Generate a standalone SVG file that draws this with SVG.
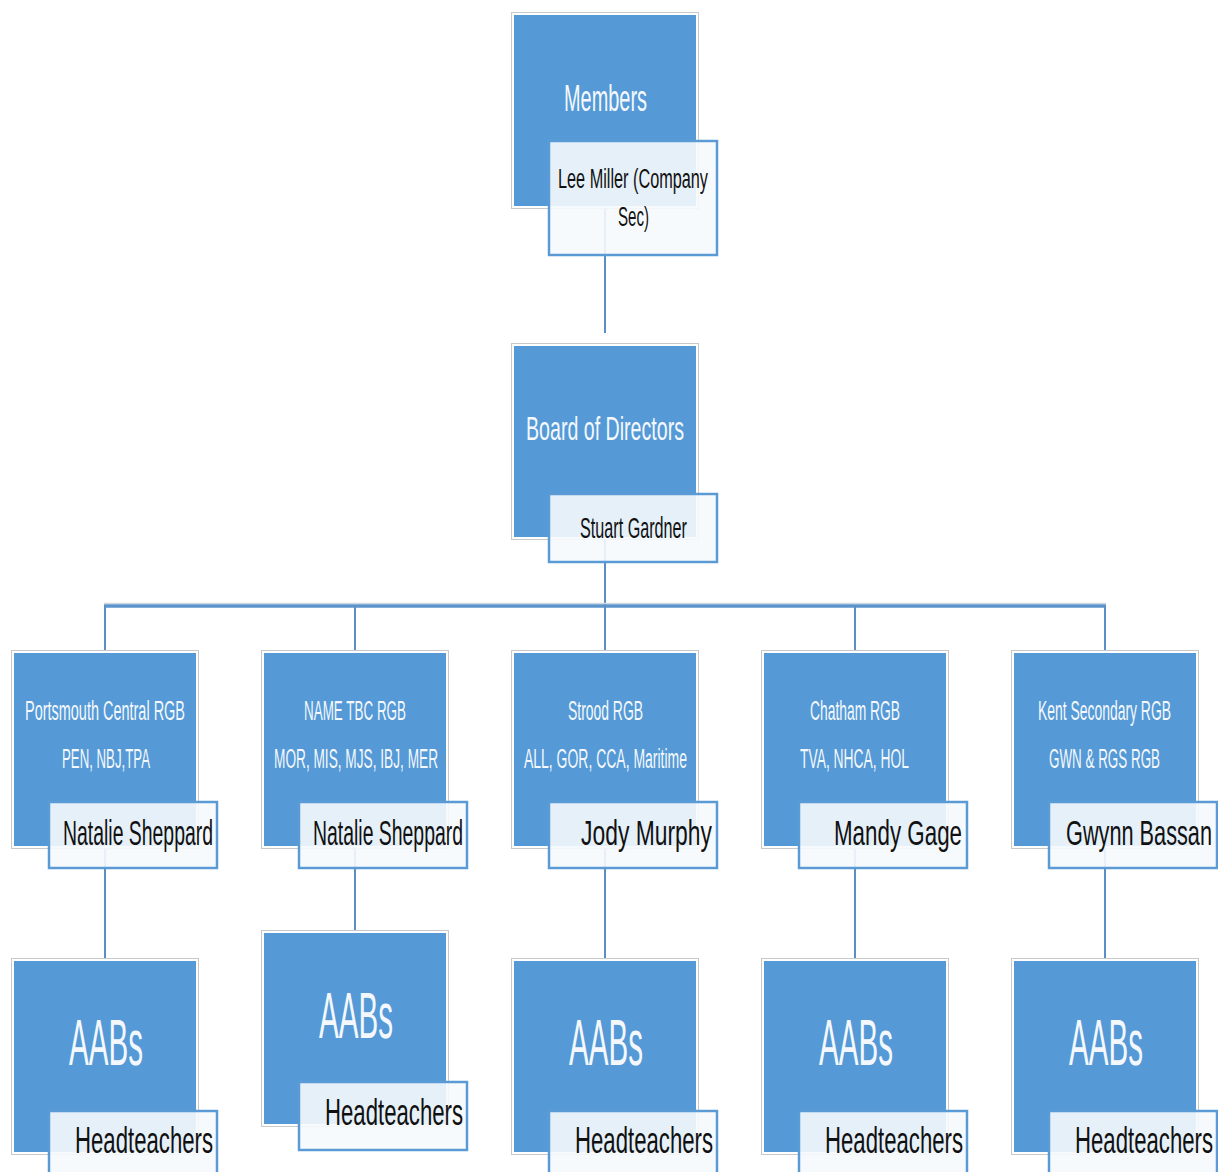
<svg xmlns="http://www.w3.org/2000/svg" width="1218" height="1172" viewBox="0 0 1218 1172">
<defs>
<style>
.box{fill:#559AD6;stroke:#fff;stroke-width:2}
.outline{fill:none;stroke:#C9C9C9;stroke-width:1}
.lbl{fill:#F6F9FD;fill-opacity:0.9;stroke:#5B9BD5;stroke-width:2.5}
.con{stroke:#5A8FC6;stroke-width:2;fill:none}
text{font-family:"Liberation Sans Narrow","Liberation Sans",Arial,sans-serif}
.w{fill:#F4F8FC}
.k{fill:#111}
</style>
</defs>
<rect width="1218" height="1172" fill="#fff"/>
<g id="connectors">
<line class="con" x1="605" y1="208" x2="605" y2="333"/>
<line class="con" x1="605" y1="539" x2="605" y2="606"/>
<line x1="104" y1="603.5" x2="1106" y2="603.5" stroke="#D0D8E0" stroke-width="1.5"/>
<line x1="104" y1="606" x2="1106" y2="606" stroke="#5B95CC" stroke-width="3.5"/>
<line class="con" x1="105" y1="606" x2="105" y2="651"/>
<line class="con" x1="355" y1="606" x2="355" y2="651"/>
<line class="con" x1="605" y1="606" x2="605" y2="651"/>
<line class="con" x1="855" y1="606" x2="855" y2="651"/>
<line class="con" x1="1105" y1="606" x2="1105" y2="651"/>
<line class="con" x1="105" y1="847" x2="105" y2="959"/>
<line class="con" x1="355" y1="847" x2="355" y2="931"/>
<line class="con" x1="605" y1="847" x2="605" y2="959"/>
<line class="con" x1="855" y1="847" x2="855" y2="959"/>
<line class="con" x1="1105" y1="847" x2="1105" y2="959"/>
</g>
<g id="members">
<rect class="outline" x="511.5" y="12.5" width="187" height="196"/>
<rect class="box" x="513" y="14" width="184" height="193"/>
<text class="w" x="564" y="111" font-size="36" textLength="83" lengthAdjust="spacingAndGlyphs">Members</text>
<rect class="lbl" x="549" y="141" width="168" height="114"/>
<text class="k" x="558" y="188" font-size="27" textLength="150" lengthAdjust="spacingAndGlyphs">Lee Miller (Company</text>
<text class="k" x="618" y="226" font-size="27" textLength="31" lengthAdjust="spacingAndGlyphs">Sec)</text>
</g>
<g id="board">
<rect class="outline" x="511.5" y="343.5" width="187" height="196"/>
<rect class="box" x="513" y="345" width="184" height="193"/>
<text class="w" x="526" y="440" font-size="33" textLength="158" lengthAdjust="spacingAndGlyphs">Board of Directors</text>
<rect class="lbl" x="549" y="494" width="168" height="68"/>
<text class="k" x="580" y="538" font-size="29" textLength="107" lengthAdjust="spacingAndGlyphs">Stuart Gardner</text>
</g>
<g id="rgb1">
<rect class="outline" x="11.5" y="650.5" width="187" height="198"/>
<rect class="box" x="13" y="652" width="184" height="195"/>
<text class="w" x="25" y="720" font-size="27" textLength="160" lengthAdjust="spacingAndGlyphs">Portsmouth Central RGB</text>
<text class="w" x="62" y="768" font-size="27" textLength="88" lengthAdjust="spacingAndGlyphs">PEN, NBJ,TPA</text>
<rect class="lbl" x="49" y="802" width="168" height="66"/>
<text class="k" x="63" y="845" font-size="35" textLength="150" lengthAdjust="spacingAndGlyphs">Natalie Sheppard</text>
</g>
<g id="rgb2">
<rect class="outline" x="261.5" y="650.5" width="187" height="198"/>
<rect class="box" x="263" y="652" width="184" height="195"/>
<text class="w" x="304" y="720" font-size="27" textLength="102" lengthAdjust="spacingAndGlyphs">NAME TBC RGB</text>
<text class="w" x="274" y="768" font-size="27" textLength="164" lengthAdjust="spacingAndGlyphs">MOR, MIS, MJS, IBJ, MER</text>
<rect class="lbl" x="299" y="802" width="168" height="66"/>
<text class="k" x="313" y="845" font-size="35" textLength="150" lengthAdjust="spacingAndGlyphs">Natalie Sheppard</text>
</g>
<g id="rgb3">
<rect class="outline" x="511.5" y="650.5" width="187" height="198"/>
<rect class="box" x="513" y="652" width="184" height="195"/>
<text class="w" x="568" y="720" font-size="27" textLength="75" lengthAdjust="spacingAndGlyphs">Strood RGB</text>
<text class="w" x="524" y="768" font-size="27" textLength="163" lengthAdjust="spacingAndGlyphs">ALL, GOR, CCA, Maritime</text>
<rect class="lbl" x="549" y="802" width="168" height="66"/>
<text class="k" x="581" y="845" font-size="35" textLength="131" lengthAdjust="spacingAndGlyphs">Jody Murphy</text>
</g>
<g id="rgb4">
<rect class="outline" x="761.5" y="650.5" width="187" height="198"/>
<rect class="box" x="763" y="652" width="184" height="195"/>
<text class="w" x="810" y="720" font-size="27" textLength="90" lengthAdjust="spacingAndGlyphs">Chatham RGB</text>
<text class="w" x="800" y="768" font-size="27" textLength="109" lengthAdjust="spacingAndGlyphs">TVA, NHCA, HOL</text>
<rect class="lbl" x="799" y="802" width="168" height="66"/>
<text class="k" x="834" y="845" font-size="35" textLength="128" lengthAdjust="spacingAndGlyphs">Mandy Gage</text>
</g>
<g id="rgb5">
<rect class="outline" x="1011.5" y="650.5" width="187" height="198"/>
<rect class="box" x="1013" y="652" width="184" height="195"/>
<text class="w" x="1038" y="720" font-size="27" textLength="133" lengthAdjust="spacingAndGlyphs">Kent Secondary RGB</text>
<text class="w" x="1049" y="768" font-size="27" textLength="111" lengthAdjust="spacingAndGlyphs">GWN &amp; RGS RGB</text>
<rect class="lbl" x="1049" y="802" width="168" height="66"/>
<text class="k" x="1066" y="845" font-size="35" textLength="146" lengthAdjust="spacingAndGlyphs">Gwynn Bassan</text>
</g>
<g id="aab1">
<rect class="outline" x="11.5" y="958.5" width="187" height="196"/>
<rect class="box" x="13" y="960" width="184" height="193"/>
<text class="w" x="69" y="1065" font-size="64" textLength="74" lengthAdjust="spacingAndGlyphs">AABs</text>
<rect class="lbl" x="49" y="1111" width="168" height="70"/>
<text class="k" x="75" y="1153" font-size="36" textLength="138" lengthAdjust="spacingAndGlyphs">Headteachers</text>
</g>
<g id="aab2">
<rect class="outline" x="261.5" y="930.5" width="187" height="196"/>
<rect class="box" x="263" y="932" width="184" height="193"/>
<text class="w" x="319" y="1038" font-size="64" textLength="74" lengthAdjust="spacingAndGlyphs">AABs</text>
<rect class="lbl" x="299" y="1082" width="168" height="68"/>
<text class="k" x="325" y="1125" font-size="36" textLength="138" lengthAdjust="spacingAndGlyphs">Headteachers</text>
</g>
<g id="aab3">
<rect class="outline" x="511.5" y="958.5" width="187" height="196"/>
<rect class="box" x="513" y="960" width="184" height="193"/>
<text class="w" x="569" y="1065" font-size="64" textLength="74" lengthAdjust="spacingAndGlyphs">AABs</text>
<rect class="lbl" x="549" y="1111" width="168" height="70"/>
<text class="k" x="575" y="1153" font-size="36" textLength="138" lengthAdjust="spacingAndGlyphs">Headteachers</text>
</g>
<g id="aab4">
<rect class="outline" x="761.5" y="958.5" width="187" height="196"/>
<rect class="box" x="763" y="960" width="184" height="193"/>
<text class="w" x="819" y="1065" font-size="64" textLength="74" lengthAdjust="spacingAndGlyphs">AABs</text>
<rect class="lbl" x="799" y="1111" width="168" height="70"/>
<text class="k" x="825" y="1153" font-size="36" textLength="138" lengthAdjust="spacingAndGlyphs">Headteachers</text>
</g>
<g id="aab5">
<rect class="outline" x="1011.5" y="958.5" width="187" height="196"/>
<rect class="box" x="1013" y="960" width="184" height="193"/>
<text class="w" x="1069" y="1065" font-size="64" textLength="74" lengthAdjust="spacingAndGlyphs">AABs</text>
<rect class="lbl" x="1049" y="1111" width="168" height="70"/>
<text class="k" x="1075" y="1153" font-size="36" textLength="138" lengthAdjust="spacingAndGlyphs">Headteachers</text>
</g>
</svg>
